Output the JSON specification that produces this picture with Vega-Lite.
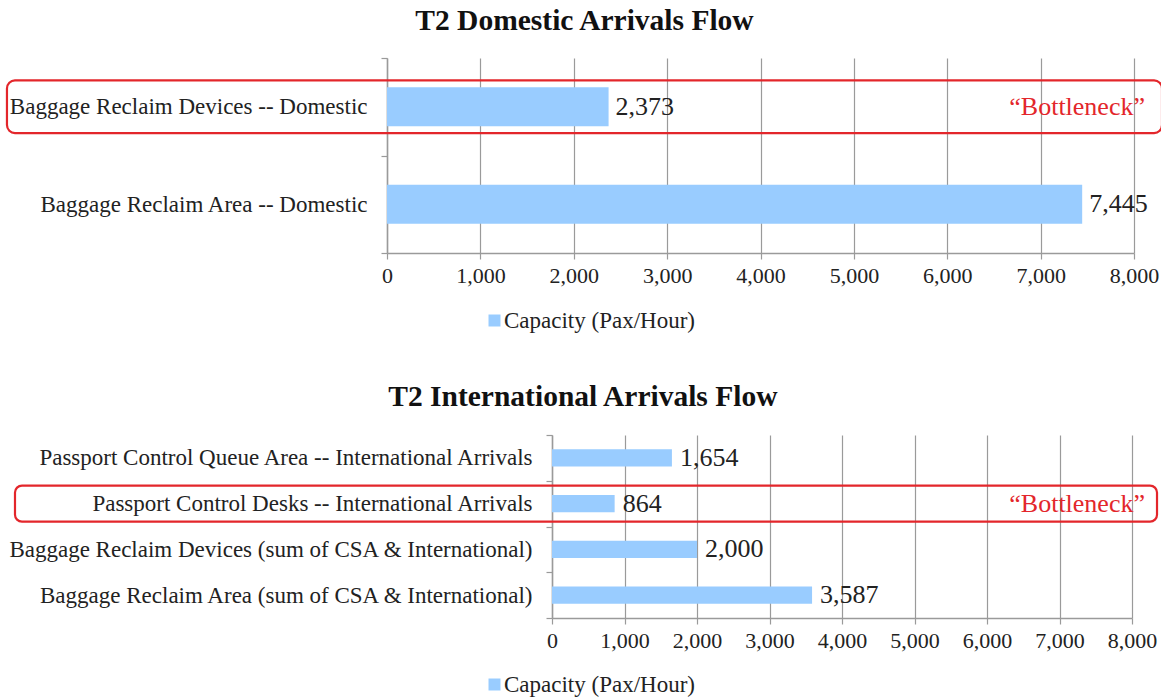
{
  "$schema": "https://vega.github.io/schema/vega-lite/v6.json",
  "background": "white",
  "padding": {"left": 5, "top": 5, "right": 5, "bottom": 0},
  "spacing": 48,
  "config": {
    "view": {"stroke": null},
    "font": "Liberation Serif",
    "axis": {
      "labelFont": "Liberation Serif",
      "labelColor": "#222222",
      "domainColor": "#9a9a9a",
      "tickColor": "#9a9a9a",
      "gridColor": "#9a9a9a",
      "gridWidth": 1.2,
      "domainWidth": 1.5,
      "tickWidth": 1.2,
      "tickSize": 6,
      "labelOverlap": false,
      "labelFlush": false
    },
    "legend": {
      "labelFont": "Liberation Serif",
      "labelColor": "#222222",
      "labelLimit": 500
    }
  },
  "datasets": {
    "domestic": [
      {"item": "Baggage Reclaim Devices -- Domestic", "capacity": 2373, "note": "“Bottleneck”"},
      {"item": "Baggage Reclaim Area -- Domestic", "capacity": 7445, "note": null}
    ],
    "international": [
      {"item": "Passport Control Queue Area -- International Arrivals", "capacity": 1654, "note": null},
      {"item": "Passport Control Desks -- International Arrivals", "capacity": 864, "note": "“Bottleneck”"},
      {"item": "Baggage Reclaim Devices (sum of CSA & International)", "capacity": 2000, "note": null},
      {"item": "Baggage Reclaim Area (sum of CSA & International)", "capacity": 3587, "note": null}
    ]
  },
  "resolve": {"scale": {"color": "independent"}, "legend": {"color": "independent"}},
  "vconcat": [
    {
      "width": 747,
      "height": 195,
      "title": {"text": "T2 Domestic Arrivals Flow", "font": "Liberation Serif", "fontSize": 29.5, "fontWeight": "bold", "color": "#111111", "anchor": "middle", "frame": "bounds", "offset": 11},
      "data": {"name": "domestic"},
      "encoding": {
        "y": {"field": "item", "type": "nominal", "sort": null,
          "scale": {"paddingInner": 0, "paddingOuter": 0},
          "axis": {"title": null, "tickBand": "extent", "labelPadding": 14, "labelFontSize": 23, "labelLimit": 1000}}
      },
      "layer": [
        {
          "mark": {"type": "bar", "height": {"band": 0.4}},
          "encoding": {
            "x": {"field": "capacity", "type": "quantitative", "scale": {"domain": [0, 8000]},
              "axis": {"title": null, "values": [0, 1000, 2000, 3000, 4000, 5000, 6000, 7000, 8000], "format": ",.0f", "grid": true, "labelFontSize": 22, "labelPadding": 6}},
            "color": {"datum": "Capacity (Pax/Hour)", "type": "nominal", "scale": {"range": ["#99CCFF"]},
              "legend": {"title": null, "orient": "none", "legendX": 96, "legendY": 251, "symbolType": "square", "symbolSize": 144, "symbolStrokeWidth": 0, "labelFontSize": 23, "labelOffset": -2}}
          }
        },
        {
          "mark": {"type": "text", "align": "left", "baseline": "middle", "dx": 7, "fontSize": 26, "color": "#222222"},
          "encoding": {
            "x": {"field": "capacity", "type": "quantitative"},
            "text": {"field": "capacity", "type": "quantitative", "format": ",.0f"}
          }
        },
        {
          "transform": [{"filter": "datum.note"}],
          "mark": {"type": "rect", "height": {"band": 0.54}, "filled": false, "stroke": "#e3262b", "strokeWidth": 2.2, "cornerRadius": 8},
          "encoding": {
            "x": {"datum": -4070, "type": "quantitative"},
            "x2": {"datum": 8300}
          }
        },
        {
          "transform": [{"filter": "datum.note"}],
          "mark": {"type": "text", "align": "right", "baseline": "middle", "dx": 11, "fontSize": 26, "color": "#e3262b"},
          "encoding": {
            "x": {"datum": 8000, "type": "quantitative"},
            "text": {"field": "note"}
          }
        }
      ]
    },
    {
      "width": 747,
      "height": 183,
      "title": {"text": "T2 International Arrivals Flow", "font": "Liberation Serif", "fontSize": 29.5, "fontWeight": "bold", "color": "#111111", "anchor": "middle", "frame": "bounds", "offset": 12},
      "data": {"name": "international"},
      "encoding": {
        "y": {"field": "item", "type": "nominal", "sort": null,
          "scale": {"paddingInner": 0, "paddingOuter": 0},
          "axis": {"title": null, "tickBand": "extent", "labelPadding": 14, "labelFontSize": 23, "labelLimit": 1000, "offset": -165}}
      },
      "layer": [
        {
          "mark": {"type": "bar", "height": {"band": 0.38}},
          "encoding": {
            "x": {"field": "capacity", "type": "quantitative", "scale": {"domain": [0, 8000], "range": [165, 745]},
              "axis": {"title": null, "values": [0, 1000, 2000, 3000, 4000, 5000, 6000, 7000, 8000], "format": ",.0f", "grid": true, "labelFontSize": 22, "labelPadding": 6}},
            "color": {"datum": "Capacity (Pax/Hour)", "type": "nominal", "scale": {"range": ["#99CCFF"]},
              "legend": {"title": null, "orient": "none", "legendX": 96, "legendY": 238, "symbolType": "square", "symbolSize": 144, "symbolStrokeWidth": 0, "labelFontSize": 23, "labelOffset": -2}}
          }
        },
        {
          "mark": {"type": "text", "align": "left", "baseline": "middle", "dx": 8, "fontSize": 26, "color": "#222222"},
          "encoding": {
            "x": {"field": "capacity", "type": "quantitative"},
            "text": {"field": "capacity", "type": "quantitative", "format": ",.0f"}
          }
        },
        {
          "transform": [{"filter": "datum.note"}],
          "mark": {"type": "rect", "height": {"band": 0.79}, "filled": false, "stroke": "#e3262b", "strokeWidth": 2.2, "cornerRadius": 7},
          "encoding": {
            "x": {"datum": -7407, "type": "quantitative"},
            "x2": {"datum": 8345}
          }
        },
        {
          "transform": [{"filter": "datum.note"}],
          "mark": {"type": "text", "align": "right", "baseline": "middle", "dx": 13, "fontSize": 26, "color": "#e3262b"},
          "encoding": {
            "x": {"datum": 8000, "type": "quantitative"},
            "text": {"field": "note"}
          }
        }
      ]
    }
  ]
}
